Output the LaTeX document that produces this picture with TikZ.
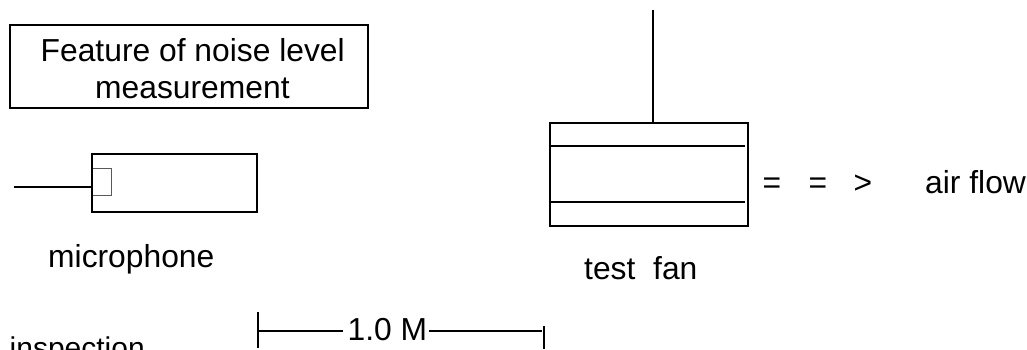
\documentclass[tikz,border=0pt]{standalone}
\usepackage{fontspec}
\setmainfont{Liberation Sans}
\tikzset{
  x=1pt,y=-1pt,
  ln/.style={draw=black,line width=2pt},
  thin box/.style={draw=black!65,line width=1pt},
  lbl/.style={inner sep=0pt,anchor=base west,font=\fontsize{31.8}{36}\selectfont}
}
\begin{document}
\begin{tikzpicture}
\path[use as bounding box] (0,0) rectangle (1027,349);
\clip (0,0) rectangle (1027,349);
% title
\coordinate (tA) at (10,25); \coordinate (tB) at (368,108);
\draw[ln] (tA) rectangle (tB);
\node[lbl] (t1) at (40.5,61) {Feature of noise level};
\node[lbl] (t2) at (95,98) {measurement};
% microphone
\coordinate (sA) at (92,168.5); \coordinate (sB) at (111.5,195);
\draw[thin box] (sA) rectangle (sB);
\coordinate (mA) at (92,154); \coordinate (mB) at (257,212);
\draw[ln] (mA) rectangle (mB);
\coordinate (wire) at (14,187); \coordinate (wireEnd) at (92,187);
\draw[ln] (wire) -- (wireEnd);
\node[lbl] (mic) at (48,267) {microphone};
% fan
\coordinate (fA) at (550,123); \coordinate (fB) at (748,226);
\draw[ln] (fA) rectangle (fB);
\coordinate (l1a) at (550,146); \coordinate (l1b) at (745,146);
\coordinate (l2a) at (550,202); \coordinate (l2b) at (745,202);
\draw[ln] (l1a) -- (l1b);
\draw[ln] (l2a) -- (l2b);
\coordinate (hang) at (653,10); \coordinate (hangEnd) at (653,123);
\draw[ln] (hang) -- (hangEnd);
\node[lbl] (ef1) at (762.5,193) {=};
\node[lbl] (ef2) at (808.5,193) {=};
\node[lbl] (ef3) at (853.5,193) {>};
\node[lbl] (air) at (925,193) {air flow};
\node[lbl] (fan) at (584,279) {test};
\node[lbl] (fan2) at (653,279) {fan};
% dimension
\coordinate (d1a) at (258,312); \coordinate (d1b) at (258,348);
\coordinate (d2a) at (544,326); \coordinate (d2b) at (544,349);
\draw[ln] (d1a) -- (d1b);
\draw[ln] (d2a) -- (d2b);
\node[lbl] (dim) at (347.5,340) {1.0 M};
\coordinate (d1m) at (258,331); \coordinate (d2m) at (542,331);
\draw[ln] (d1m) -- (343,331);
\draw[ln] (429,331) -- (d2m);
\node[lbl,font=\fontsize{30}{34}\selectfont] (insp) at (9.5,358.6) {inspection};
\end{tikzpicture}
\end{document}
